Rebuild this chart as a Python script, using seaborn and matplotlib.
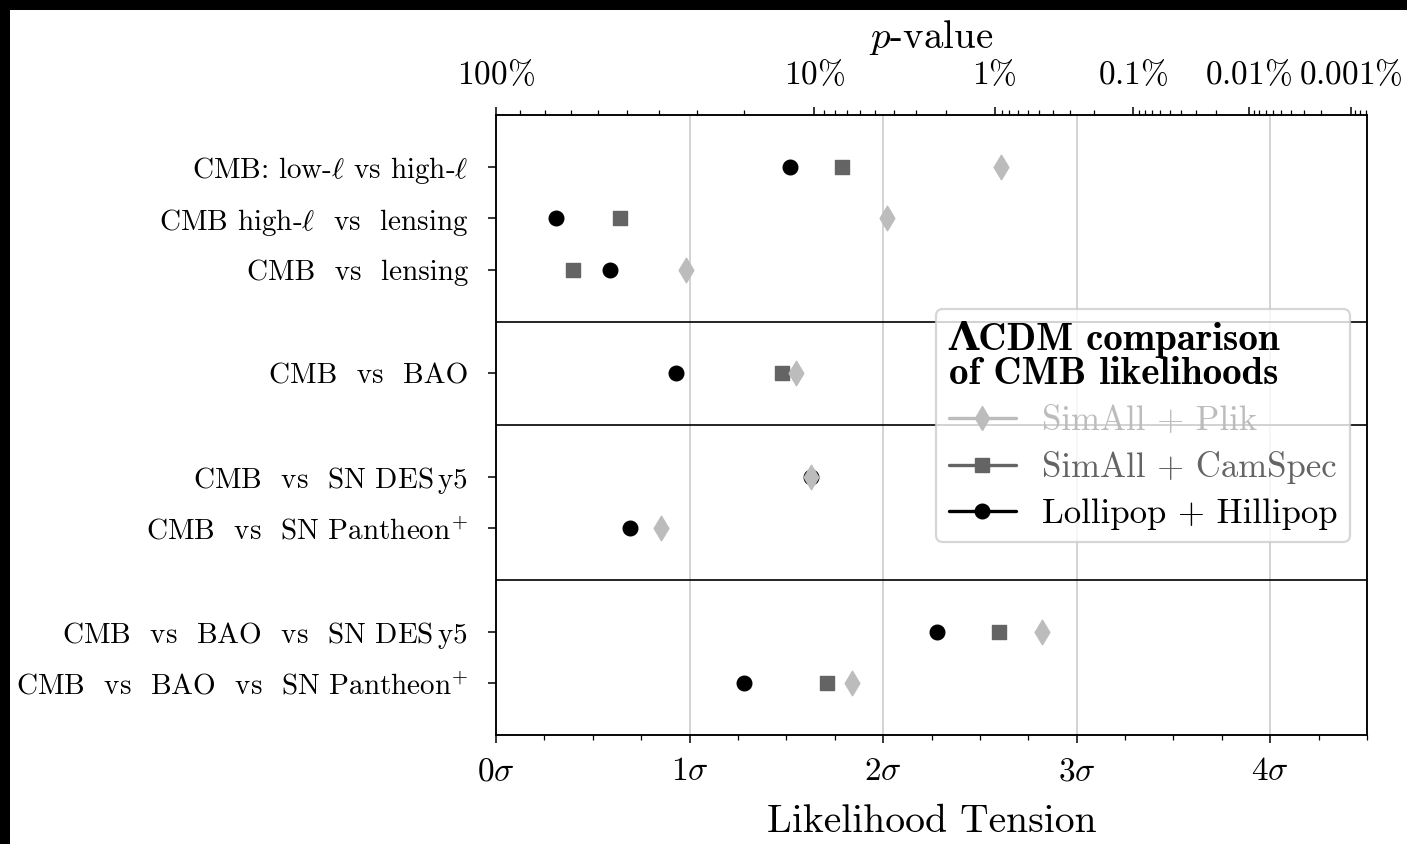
import math
import numpy as np
import pandas as pd
import matplotlib
matplotlib.use("Agg")
import matplotlib.pyplot as plt
import seaborn as sns
from matplotlib.lines import Line2D
from matplotlib.patches import Rectangle
from matplotlib.font_manager import FontProperties
from matplotlib.ticker import FixedLocator, MultipleLocator, NullFormatter

# ---------------- data ----------------
labels = [
    r"CMB: low-$\ell$ vs high-$\ell$",
    r"CMB high-$\ell$  vs  lensing",
    r"CMB  vs  lensing",
    r"CMB  vs  BAO",
    r"CMB  vs  SN DES$\,$y5",
    r"CMB  vs  SN Pantheon$^{+}$",
    r"CMB  vs  BAO  vs  SN DES$\,$y5",
    r"CMB  vs  BAO  vs  SN Pantheon$^{+}$",
]
row_pos = [0, 1, 2, 4, 6, 7, 9, 10]
separators = [3, 5, 8]

plik = [2.61, 2.02, 0.98, 1.55, 1.63, 0.85, 2.82, 1.84]
camspec = [1.79, 0.64, 0.40, 1.48, np.nan, np.nan, 2.60, 1.71]
hillipop = [1.52, 0.31, 0.59, 0.93, 1.63, 0.69, 2.28, 1.28]

series_names = ["SimAll + Plik", "SimAll + CamSpec", "Lollipop + Hillipop"]
series_colors = ["#bcbcbc", "#646464", "#000000"]
series_markers = ["d", "s", "o"]
series_sizes = [12.5, 10.5, 10.5]

sigma_ticks = [0, 1, 2, 3, 4]
sigma_labels = [r"$0\sigma$", r"$1\sigma$", r"$2\sigma$", r"$3\sigma$", r"$4\sigma$"]
pvalue_ticks = [1.0, 0.1, 0.01, 1e-3, 1e-4, 1e-5]
pvalue_labels = [r"$100\%$", r"$10\%$", r"$1\%$", r"$0.1\%$", r"$0.01\%$", r"$0.001\%$"]

# ---------------- style ----------------
sns.set_theme(style="ticks")
plt.rcParams.update({
    "font.family": ["cmr10", "DejaVu Serif"],
    "mathtext.fontset": "cm",
    "axes.unicode_minus": False,
    "axes.formatter.use_mathtext": True,
    "axes.linewidth": 1.1,
    "text.color": "black",
    "axes.labelcolor": "black",
    "xtick.color": "black",
    "ytick.color": "black",
    "axes.edgecolor": "black",
})

W, H, DPI = 1407, 844, 100
fig = plt.figure(figsize=(W / DPI, H / DPI), dpi=DPI)
fig.patch.set_facecolor("black")
fig.patches.append(Rectangle((10 / W, 0), 1, 1 - 10 / H, transform=fig.transFigure,
                             facecolor="white", edgecolor="none", zorder=-10))
ax = fig.add_axes([496 / W, (H - 735) / H, (1367 - 496) / W, (735 - 115) / H])

# long-form data frame
frames = []
for name, vals in zip(series_names, [plik, camspec, hillipop]):
    frames.append(pd.DataFrame({"row": row_pos, "label": labels, "sigma": vals, "series": name}))
df = pd.concat(frames, ignore_index=True)

# draw (Lollipop first, Plik on top)
for name, col, mk, ms in list(zip(series_names, series_colors, series_markers, series_sizes))[::-1]:
    sub = df[df["series"] == name].dropna()
    sns.scatterplot(data=sub, x="sigma", y="row", ax=ax, marker=mk, color=col,
                    s=ms ** 2, edgecolor=col, linewidth=1.0, legend=False, zorder=3)

# grid + separators
for s in sigma_ticks[1:]:
    ax.axvline(s, color="#d0d0d0", lw=1.3, zorder=0)
for sp in separators:
    ax.axhline(sp, color="black", lw=1.2, zorder=1)

ax.set_xlim(0, 4.5)
ax.set_ylim(11, -1)
ax.set_yticks(row_pos)
ax.set_yticklabels(labels, fontsize=21)
ax.set_xticks(sigma_ticks)
ax.set_xticklabels(sigma_labels, fontsize=24)
ax.xaxis.set_minor_locator(MultipleLocator(0.25))
ax.tick_params(axis="x", which="major", length=6, width=1.1, pad=10, direction="out")
ax.tick_params(axis="x", which="minor", length=3.5, width=0.9, direction="out")
ax.tick_params(axis="y", which="major", length=6, width=1.1, pad=14, direction="out")
ax.set_xlabel("Likelihood Tension", fontsize=28.5, labelpad=13)
ax.set_ylabel("")
for sp in ax.spines.values():
    sp.set_visible(True)
    sp.set_linewidth(1.1)


# top p-value axis
def sigma_of_p(p):
    lo, hi = 0.0, 10.0
    for _ in range(100):
        mid = 0.5 * (lo + hi)
        if math.erfc(mid / math.sqrt(2)) > p:
            lo = mid
        else:
            hi = mid
    return 0.5 * (lo + hi)


ax2 = ax.twiny()
ax2.set_xlim(ax.get_xlim())
ax2.xaxis.set_major_locator(FixedLocator([sigma_of_p(p) for p in pvalue_ticks]))
ax2.set_xticklabels(pvalue_labels, fontsize=24)
minor_p = []
for dec in [1.0, 0.1, 0.01, 1e-3, 1e-4, 1e-5]:
    for k in range(2, 10):
        pv = k * dec / 10.0
        sg = sigma_of_p(pv)
        if sg <= 4.5:
            minor_p.append(sg)
ax2.xaxis.set_minor_locator(FixedLocator(minor_p))
ax2.xaxis.set_minor_formatter(NullFormatter())
ax2.tick_params(axis="x", which="major", length=6, width=1.1, pad=12, direction="out")
ax2.tick_params(axis="x", which="minor", length=3.5, width=0.9, direction="out")
ax2.set_xlabel(r"$p$-value", fontsize=28, labelpad=8)

# legend
handles = [Line2D([0], [0], color=c, marker=m, markersize=ms, lw=2.4,
                  markeredgecolor=c)
           for c, m, ms in zip(series_colors, series_markers, series_sizes)]
title_fp = FontProperties(family=["cmb10", "DejaVu Serif"], weight="bold", size=28)
leg = ax.legend(handles, series_names, loc="upper right",
                bbox_to_anchor=((1350 - 496) / (1367 - 496), (735 - 309) / (735 - 115)),
                borderaxespad=0, fontsize=25, title="ΛCDM comparison\nof CMB likelihoods",
                title_fontproperties=title_fp, alignment="left", frameon=True,
                framealpha=0.8, edgecolor="#cccccc", fancybox=True,
                handlelength=1.95, handletextpad=0.75, labelspacing=0.4,
                borderpad=0.35)
leg.get_frame().set_linewidth(1.6)
leg.get_title().set_color("black")
leg.get_title().set_linespacing(0.95)
for txt, c in zip(leg.get_texts(), series_colors):
    txt.set_color(c)
leg.set_zorder(5)

fig.savefig("out.png", dpi=DPI, facecolor=fig.get_facecolor())
